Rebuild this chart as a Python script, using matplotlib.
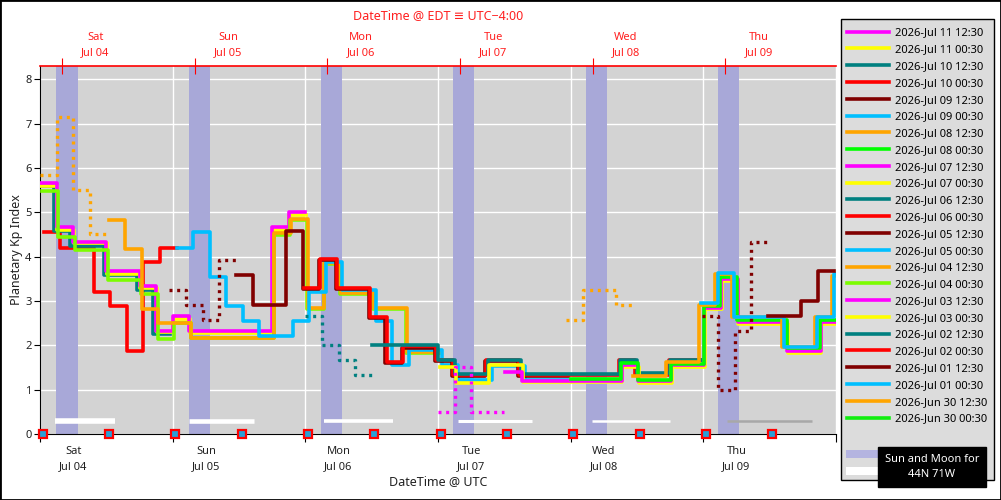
import numpy as np
import matplotlib
matplotlib.use('Agg')
import matplotlib.pyplot as plt
from matplotlib.lines import Line2D
from matplotlib.patches import Rectangle

plt.rcParams['font.family'] = ['Noto Sans', 'DejaVu Sans']

# time axis: hours after 2026-Jul 04 00:00 UTC, Kp values are 3 h bins
red_0702 = [4.55, 4.2, 4.2, 3.2, 2.88, 1.88, 3.88, 4.2]
teal_0702 = [5.6, 4.58, 4.25, 4.25, 3.58, 3.58, 3.25, 2.25]
yellow_0703 = [5.6, 4.6, 4.3, 4.3, 3.6, 3.6, 3.3, 2.3, 2.6, 2.27, 2.27, 2.27, 2.27, 2.27, 4.6, 4.93]
magenta_0703 = [5.67, 4.67, 4.33, 4.33, 3.67, 3.67, 3.33, 2.33, 2.67, 2.33, 2.33, 2.33, 2.33, 2.33, 4.67, 5.0]
green_0704 = [5.47, 4.45, 4.15, 4.15, 3.48, 3.48, 3.15, 2.15, 2.5, 2.17, 2.17, 2.17, 2.17, 2.17, 4.49, 4.83,
              2.83, 3.83, 3.15, 3.15, 2.83, 2.83, 1.83, 1.83]
orange_0704_est = [5.85, 7.15, 5.5, 4.5]
orange_0704 = [4.83, 4.17, 2.83, 2.5, 2.5, 2.17, 2.17, 2.17, 2.17, 2.17, 4.53, 4.85,
               2.85, 3.85, 3.17, 3.17, 2.85, 2.85, 1.85, 1.85]
cyan_0705 = [4.2, 4.55, 3.55, 2.88, 2.55, 2.22, 2.22, 2.55, 3.2, 3.88, 3.25, 3.25, 2.55, 1.56, 1.9, 1.9,
             1.56, 1.22, 1.22, 1.53, 1.53, 1.22, 1.22, 1.22]
maroon_0705_est = [3.25, 2.92, 2.58, 3.92]
maroon_0705 = [3.58, 2.92, 2.92, 4.58, 3.28, 3.93, 3.28, 3.28, 2.62, 1.6, 1.95, 1.95,
               1.64, 1.3, 1.3, 1.64, 1.64, 1.3, 1.3, 1.3]
red_0706 = [3.3, 3.95, 3.3, 3.3, 2.64, 1.62, 1.98, 1.98,
            1.66, 1.32, 1.32, 1.66, 1.66, 1.32, 1.32, 1.32,
            1.32, 1.32, 1.32, 1.66, 1.34, 1.34, 1.66, 1.66]
teal_0706_est = [2.66, 2.0, 1.66, 1.34]
teal_0706 = [2.0, 2.0, 2.0, 2.0, 1.68, 1.36, 1.36, 1.68, 1.68, 1.36, 1.36, 1.36,
             1.36, 1.36, 1.36, 1.68, 1.38, 1.38, 1.68, 1.68]
yellow_0707 = [1.5, 1.15, 1.15, 1.55, 1.55, 1.17, 1.17, 1.17,
               1.17, 1.17, 1.17, 1.5, 1.15, 1.15, 1.5, 1.5,
               2.81, 3.45, 2.47, 2.47, 2.47, 1.83, 1.83, 2.47]
magenta_0707_est = [0.5, 1.5, 0.5, 0.5]
magenta_0707 = [1.4, 1.2, 1.2, 1.2, 1.2, 1.2, 1.2, 1.55, 1.2, 1.2, 1.55, 1.55,
                2.85, 3.5, 2.52, 2.52, 2.52, 1.88, 1.88, 2.52]
lime_0708 = [1.25, 1.25, 1.25, 1.6, 1.22, 1.22, 1.58, 1.58, 2.88, 3.55, 2.58, 2.58, 2.58, 1.93, 1.93, 2.58]
orange_0708_est = [2.58, 3.25, 3.25, 2.92]
orange_0708 = [1.3, 1.3, 1.62, 1.62, 2.92, 3.6, 2.63, 2.63, 2.63, 1.97, 1.97, 2.63, 3.57]
cyan_0709 = [2.95, 3.62, 2.63, 2.63, 2.63, 1.97, 1.97, 2.63, 3.6]
maroon_0709_est = [2.67, 1.0, 2.33, 4.33]
maroon_0709 = [2.67, 2.67, 3.0, 3.67]

issue_hours = [0.5 + 12 * k for k in range(12)]
night_start = [2.9, 26.9, 50.8, 74.7, 98.7, 122.6]
night_len = 3.9
moon_start = [2.7, 27.0, 51.4, 75.6, 99.9, 124.3]
moon_end = [13.6, 38.7, 63.9, 89.0, 114.0, 139.7]
moon_width = [4.0, 3.3, 2.6, 2.2, 1.8, 1.8]

day_names = ['Sat', 'Sun', 'Mon', 'Tue', 'Wed', 'Thu']
day_dates = ['Jul 04', 'Jul 05', 'Jul 06', 'Jul 07', 'Jul 08', 'Jul 09']

legend_labels = ['2026-Jul 11 12:30', '2026-Jul 11 00:30', '2026-Jul 10 12:30', '2026-Jul 10 00:30',
                 '2026-Jul 09 12:30', '2026-Jul 09 00:30', '2026-Jul 08 12:30', '2026-Jul 08 00:30',
                 '2026-Jul 07 12:30', '2026-Jul 07 00:30', '2026-Jul 06 12:30', '2026-Jul 06 00:30',
                 '2026-Jul 05 12:30', '2026-Jul 05 00:30', '2026-Jul 04 12:30', '2026-Jul 04 00:30',
                 '2026-Jul 03 12:30', '2026-Jul 03 00:30', '2026-Jul 02 12:30', '2026-Jul 02 00:30',
                 '2026-Jul 01 12:30', '2026-Jul 01 00:30', '2026-Jun 30 12:30', '2026-Jun 30 00:30']
legend_colors = ['#ff00ff', '#ffff00', '#008080', '#ff0000', '#800000', '#00bfff', '#ffa500', '#00ff00',
                 '#ff00ff', '#ffff00', '#008080', '#ff0000', '#800000', '#00bfff', '#ffa500', '#7cfc00',
                 '#ff00ff', '#ffff00', '#008080', '#ff0000', '#800000', '#00bfff', '#ffa500', '#11ee11']

# values, start hour, color, dotted?, small x shift (h) so bundles stay readable
series = [
    (red_0702, 0, '#ff0000', False, 0.7),
    (teal_0702, 0, '#008080', False, -0.5),
    (yellow_0703, 0, '#ffff00', False, 0.1),
    (magenta_0703, 0, '#ff00ff', False, 0.0),
    (green_0704, 0, '#7cfc00', False, 0.3),
    (orange_0704_est, 0, '#ffa500', True, 0.0),
    (orange_0704, 12, '#ffa500', False, 0.4),
    (cyan_0705, 24, '#00bfff', False, 0.7),
    (maroon_0705_est, 24, '#800000', True, -0.6),
    (maroon_0705, 36, '#800000', False, -0.5),
    (red_0706, 48, '#ff0000', False, -0.3),
    (teal_0706_est, 48, '#008080', True, 0.0),
    (teal_0706, 60, '#008080', False, 0.0),
    (yellow_0707, 72, '#ffff00', False, 0.3),
    (magenta_0707_est, 72, '#ff00ff', True, 0.0),
    (magenta_0707, 84, '#ff00ff', False, 0.2),
    (lime_0708, 96, '#00ff00', False, 0.1),
    (orange_0708_est, 96, '#ffa500', True, -0.8),
    (orange_0708, 108, '#ffa500', False, -0.8),
    (cyan_0709, 120, '#00bfff', False, -0.4),
    (maroon_0709_est, 120, '#800000', True, -0.3),
    (maroon_0709, 132, '#800000', False, -0.3),
]

fig = plt.figure(figsize=(10.01, 5.0), dpi=100)
ax = fig.add_axes([40 / 1001, 66 / 500, 796 / 1001, 368 / 500])
ax.set_facecolor('#d3d3d3')
ax.set_xlim(0, 144)
ax.set_ylim(0, 8.3)

ax.grid(True, color='white', lw=1, zorder=0.5)
ax.set_axisbelow(True)

for s in night_start:
    ax.axvspan(s, s + night_len, color='#a8a8d8', lw=0, zorder=1)

for i, (a, b) in enumerate(zip(moon_start, moon_end)):
    c = '#a8a8a8' if i == len(moon_start) - 1 else 'white'
    ax.hlines(0.3, a, b, color=c, lw=moon_width[i], zorder=1.5)

for vals, start, col, dotted, shift in series:
    x = start + 3 * np.arange(len(vals) + 1) + shift
    y = list(vals) + [vals[-1]]
    if dotted:
        ax.plot(x, y, drawstyle='steps-post', color=col, lw=2.4, ls=(0, (0.9, 1.4)), zorder=3)
    else:
        ax.plot(x, y, drawstyle='steps-post', color=col, lw=2.6, zorder=3)

ax.plot(issue_hours, np.zeros(len(issue_hours)), ls='none', marker='s', ms=6,
        mfc='#2a9fd6', mec='red', mew=1.6, clip_on=False, zorder=5)

# bottom axis (UTC)
ax.set_xticks(np.arange(0, 145, 24))
ax.set_xticklabels([])
ax.set_xticks(np.arange(6, 144, 24), minor=True)
ax.set_xticklabels([f'{d}\n{t}' for d, t in zip(day_names, day_dates)], minor=True, linespacing=1.45)
ax.tick_params(axis='x', which='major', length=6, color='black', direction='out')
ax.tick_params(axis='x', which='minor', length=0, pad=9, labelsize=8, labelcolor='#222222')
ax.set_yticks(range(0, 9))
ax.tick_params(axis='y', length=4, labelsize=8, labelcolor='#222222', pad=2)
ax.set_xlabel('DateTime @ UTC', fontsize=9, color='#222222', labelpad=2)
ax.set_ylabel('Planetary Kp Index', fontsize=9, color='#222222', labelpad=2)
ax.spines['right'].set_visible(False)
ax.spines['top'].set_visible(False)

# top axis (EDT)
ax2 = ax.twiny()
ax2.set_xlim(0, 144)
ax2.set_xticks(np.arange(4, 144, 24))
ax2.set_xticklabels([])
ax2.set_xticks(np.arange(10, 144, 24), minor=True)
ax2.set_xticklabels([f'{d}\n{t}' for d, t in zip(day_names, day_dates)], minor=True, linespacing=1.45)
ax2.tick_params(axis='x', which='major', length=12, direction='inout', color='red')
ax2.tick_params(axis='x', which='minor', length=0, pad=6, labelsize=8, labelcolor='#ff2020')
for side in ['left', 'right', 'bottom']:
    ax2.spines[side].set_visible(False)
ax2.spines['top'].set_color('red')
ax2.spines['top'].set_linewidth(1.2)

fig.text(438 / 1001, 1 - 16 / 500, 'DateTime @ EDT \u2261 UTC\u22124:00', color='#ff2020',
         fontsize=9, ha='center', va='center')

# legend box with sun / moon keys
fig.patches.append(Rectangle((841 / 1001, 1 - 480 / 500), 153 / 1001, 461 / 500, transform=fig.transFigure,
                             fc='#dcdcdc', ec='black', lw=1, zorder=1))
fig.patches.append(Rectangle((846 / 1001, 1 - 458 / 500), 36 / 1001, 8 / 500, transform=fig.transFigure,
                             fc='#b4b4e0', ec='none', zorder=2))
fig.patches.append(Rectangle((846 / 1001, 1 - 475 / 500), 36 / 1001, 8 / 500, transform=fig.transFigure,
                             fc='white', ec='none', zorder=2))

handles = [Line2D([], [], color=c, lw=2.6) for c in legend_colors]
fig.legend(handles, legend_labels, loc='upper left', bbox_to_anchor=(841 / 1001, 1 - 22 / 500),
           fontsize=8, frameon=False, handlelength=3.8, handletextpad=0.55, labelspacing=0.52,
           borderpad=0.5, borderaxespad=0)

fig.text(932 / 1001, 1 - 467 / 500, 'Sun and Moon for\n44N 71W', color='white', fontsize=8,
         fontweight='bold', ha='center', va='center', linespacing=1.5,
         bbox=dict(boxstyle='square,pad=0.6', fc='black', ec='black'), zorder=10)

fig.patches.append(Rectangle((0, 0), 1, 1, transform=fig.transFigure, fill=False,
                             edgecolor='black', lw=2))

fig.savefig('out.png', dpi=100)
